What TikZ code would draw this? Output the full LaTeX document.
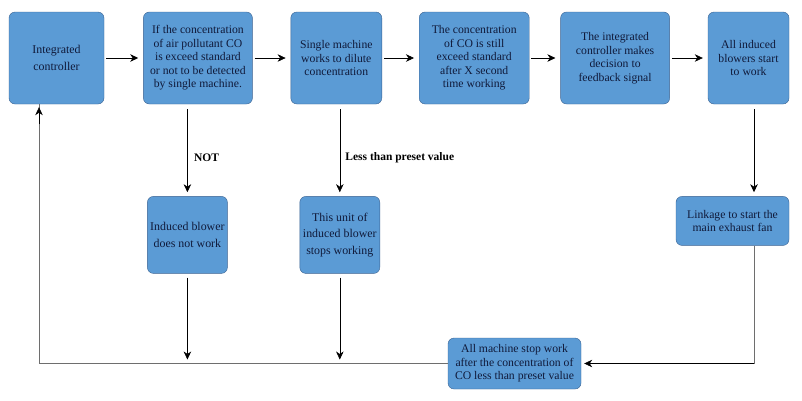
\documentclass[tikz,border=0pt]{standalone}
\usepackage{fontspec}
\setmainfont{Liberation Serif}
\usetikzlibrary{positioning,arrows.meta}

\definecolor{boxfill}{RGB}{91,155,213}
\definecolor{boxborder}{RGB}{58,98,145}
\definecolor{boxtext}{RGB}{16,26,58}
\definecolor{backline}{RGB}{110,110,110}

\begin{document}
\begin{tikzpicture}[
		x=1pt,y=1pt,
		node distance=38pt and 38pt,
		mynode/.style={draw=boxborder,fill=boxfill,rounded corners=6pt,minimum height=92pt,
			align=center,inner sep=2pt,text=boxtext,font=\fontsize{11.7}{13.5}\selectfont},
		loose/.style={font=\fontsize{11.9}{16.6}\selectfont},
		flow/.style={-{Stealth[length=8pt,width=7.5pt,inset=2.5pt]},black,line width=0.6pt},
		back/.style={backline,line width=0.8pt},
		cond/.style={font=\fontsize{11.5}{13.5}\selectfont\bfseries,text=black}
		]
		\useasboundingbox (0,0) rectangle (802,-400);
		% top row
		\node[mynode,loose,minimum width=95pt] (controller) at (56.5,-58) {Integrated\\controller};
		\node[mynode,minimum width=109pt,right=39pt of controller] (detect)
			{If the concentration\\of air pollutant CO\\is exceed standard\\or not to be detected\\by single machine.};
		\node[mynode,minimum width=91pt,right=38pt of detect] (dilute)
			{Single machine\\works to dilute\\concentration};
		\node[mynode,minimum width=110pt,right=37pt of dilute] (still)
			{The concentration\\of CO is still\\exceed standard\\after X second\\time working};
		\node[mynode,minimum width=109pt,right=31pt of still] (decision)
			{The integrated\\controller makes\\decision to\\feedback signal};
		\node[mynode,minimum width=81pt,right=38pt of decision] (allstart)
			{All induced\\blowers start\\to work};
		% middle row
		\node[mynode,loose,minimum width=80pt,minimum height=77pt,below=92pt of detect,xshift=-10.5pt] (nowork)
			{Induced blower\\does not work};
		\node[mynode,loose,minimum width=80pt,minimum height=77pt,below=92pt of dilute,xshift=3.5pt] (unitstop)
			{This unit of\\induced blower\\stops working};
		\node[mynode,minimum width=113pt,minimum height=49pt,below=92pt of allstart,xshift=-16pt] (linkage)
			{Linkage to start the\\main exhaust fan};
		% bottom
		\node[mynode,minimum width=133pt,minimum height=51pt] (allstop) at (514.5,-363.5)
			{All machine stop work\\after the concentration of\\CO less than preset value};
		\coordinate (fanline) at ([xshift=5.5pt]allstart.south);
		\coordinate (rightcorner) at (fanline |- allstop);
		\coordinate (leftcorner) at (39,-363.5);
		\coordinate (upline) at (leftcorner |- controller.south);

		\path[flow,shorten <=2pt,shorten >=5pt]
		(controller) edge (detect)
		(detect) edge (dilute)
		(dilute) edge (still)
		(still) edge (decision)
		(decision) edge (allstart);
		\draw[flow,shorten <=5pt,shorten >=4pt] (nowork.north |- detect.south) -- (nowork.north)
			node[cond,pos=0.58,right=3pt] {NOT};
		\draw[flow,shorten <=5pt,shorten >=4pt] (unitstop.north |- dilute.south) -- (unitstop.north)
			node[cond,pos=0.58,right=2pt] {Less than preset value};
		\draw[flow,shorten <=5pt,shorten >=4pt] (fanline) -- (fanline |- linkage.north);
		\draw[flow,shorten <=4pt,shorten >=4pt] (nowork.south) -- (nowork.south |- allstop);
		\draw[flow,shorten <=4pt,shorten >=4pt] (unitstop.south) -- (unitstop.south |- allstop);
		\draw[back] (fanline |- linkage.south) -- (rightcorner);
		\draw[back] (allstop.west) -- (leftcorner) -- (upline);
		\draw[flow,shorten >=3pt] (rightcorner) -- (allstop.east);
		\draw[flow,shorten >=3pt] ([yshift=-20pt]upline) -- (upline);
	\end{tikzpicture}
\end{document}
